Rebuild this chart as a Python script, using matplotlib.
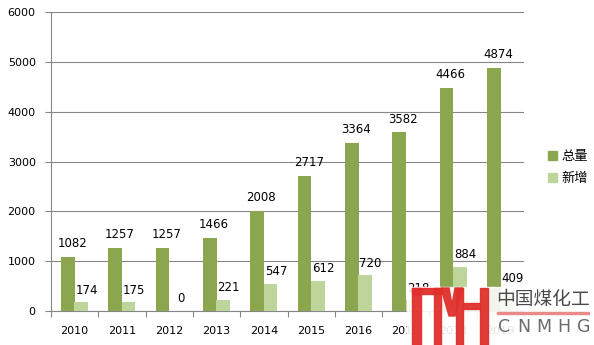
import matplotlib.pyplot as plt
import matplotlib.patches as mpatches
import numpy as np

plt.rcParams['font.family'] = ['DejaVu Sans', 'Noto Sans CJK SC']

years = ['2010', '2011', '2012', '2013', '2014', '2015', '2016', '2017', '2018', '2019']
total = [1082, 1257, 1257, 1466, 2008, 2717, 3364, 3582, 4466, 4874]
added = [174, 175, 0, 221, 547, 612, 720, 218, 884, 409]

dark = '#8ca64f'
light = '#bdd49b'
grid_c = '#868686'

W, H = 594, 345
fig = plt.figure(figsize=(W / 100, H / 100), dpi=100)
ax = fig.add_axes([51 / W, 1 - 311 / H, 473 / W, 299 / H])

x = np.arange(len(years))
bw = 0.29
ax.bar(x - 0.14, total, bw, color=dark, zorder=3)
ax.bar(x + 0.14, added, bw, color=light, zorder=3)

for i in range(len(years)):
    ax.annotate(str(total[i]), (x[i] - 0.14, total[i]), xytext=(3, 5),
                textcoords='offset points', ha='center', va='bottom', fontsize=8.5, zorder=4)
    ax.annotate(str(added[i]), (x[i] + 0.14, added[i]), xytext=(4, 4),
                textcoords='offset points', ha='center', va='bottom', fontsize=8.5, zorder=4)

ax.set_xlim(-0.5, len(years) - 0.5)
ax.set_ylim(0, 6000)
ax.set_yticks(range(0, 6001, 1000))
ax.set_xticks(x)
ax.set_xticklabels(years, fontsize=8)
ax.set_xticks(np.arange(-0.5, len(years), 1), minor=True)
ax.tick_params(axis='x', which='major', length=0, pad=11)
ax.tick_params(axis='x', which='minor', length=4, color=grid_c, width=0.8)
ax.tick_params(axis='y', length=4, color=grid_c, width=0.8, labelsize=8, pad=7)
ax.grid(axis='y', color=grid_c, linewidth=0.8, zorder=0)
for s in ['top', 'right']:
    ax.spines[s].set_visible(False)
for s in ['left', 'bottom']:
    ax.spines[s].set_color(grid_c)
    ax.spines[s].set_linewidth(0.8)

# legend
handles = [mpatches.Patch(color=dark, label='总量'), mpatches.Patch(color=light, label='新增')]
fig.legend(handles=handles, loc='upper left', bbox_to_anchor=(536 / W, 1 - 138 / H),
           frameon=False, handlelength=0.7, handleheight=0.7,
           handletextpad=0.3, labelspacing=0.7, prop={'family': 'Noto Sans CJK SC', 'size': 9.5})

# watermark logo
def px(x0, y0):
    return (x0 / W, 1 - y0 / H)

def rect(x0, y0, x1, y1, **kw):
    fig.patches.append(mpatches.Rectangle(px(x0, y1), (x1 - x0) / W, (y1 - y0) / H,
                                          transform=fig.transFigure, **kw))

rect(407, 287, 594, 345, color='white', alpha=0.9, zorder=10)
red = '#e0302c'
for r in [(412, 288, 421, 345), (412, 288, 442, 294), (434, 288, 441, 345),
          (456, 288, 463, 345), (463, 303, 480, 309), (480, 288, 488, 345)]:
    rect(*r, color=red, alpha=0.95, zorder=11)
fig.patches.append(mpatches.Polygon([px(441, 288), px(449, 288), px(452, 305), px(455, 288),
                                     px(463, 288), px(455, 316), px(449, 316)],
                                    closed=True, transform=fig.transFigure, color=red,
                                    alpha=0.95, zorder=11))
fig.text(496 / W, 1 - 300 / H, '中国煤化工', fontsize=13.5, color='#4a4a4a', va='center',
         ha='left', family='Noto Sans CJK SC', zorder=12)
rect(497, 312, 589, 313.5, color='#e88a88', zorder=12)
for k, ch in enumerate('CNMHG'):
    fig.text((504 + k * 20) / W, 1 - 327 / H, ch, fontsize=12.5, color='#6a6a6a',
             va='center', ha='center', zorder=12)

fig.savefig('out.png', dpi=100)
